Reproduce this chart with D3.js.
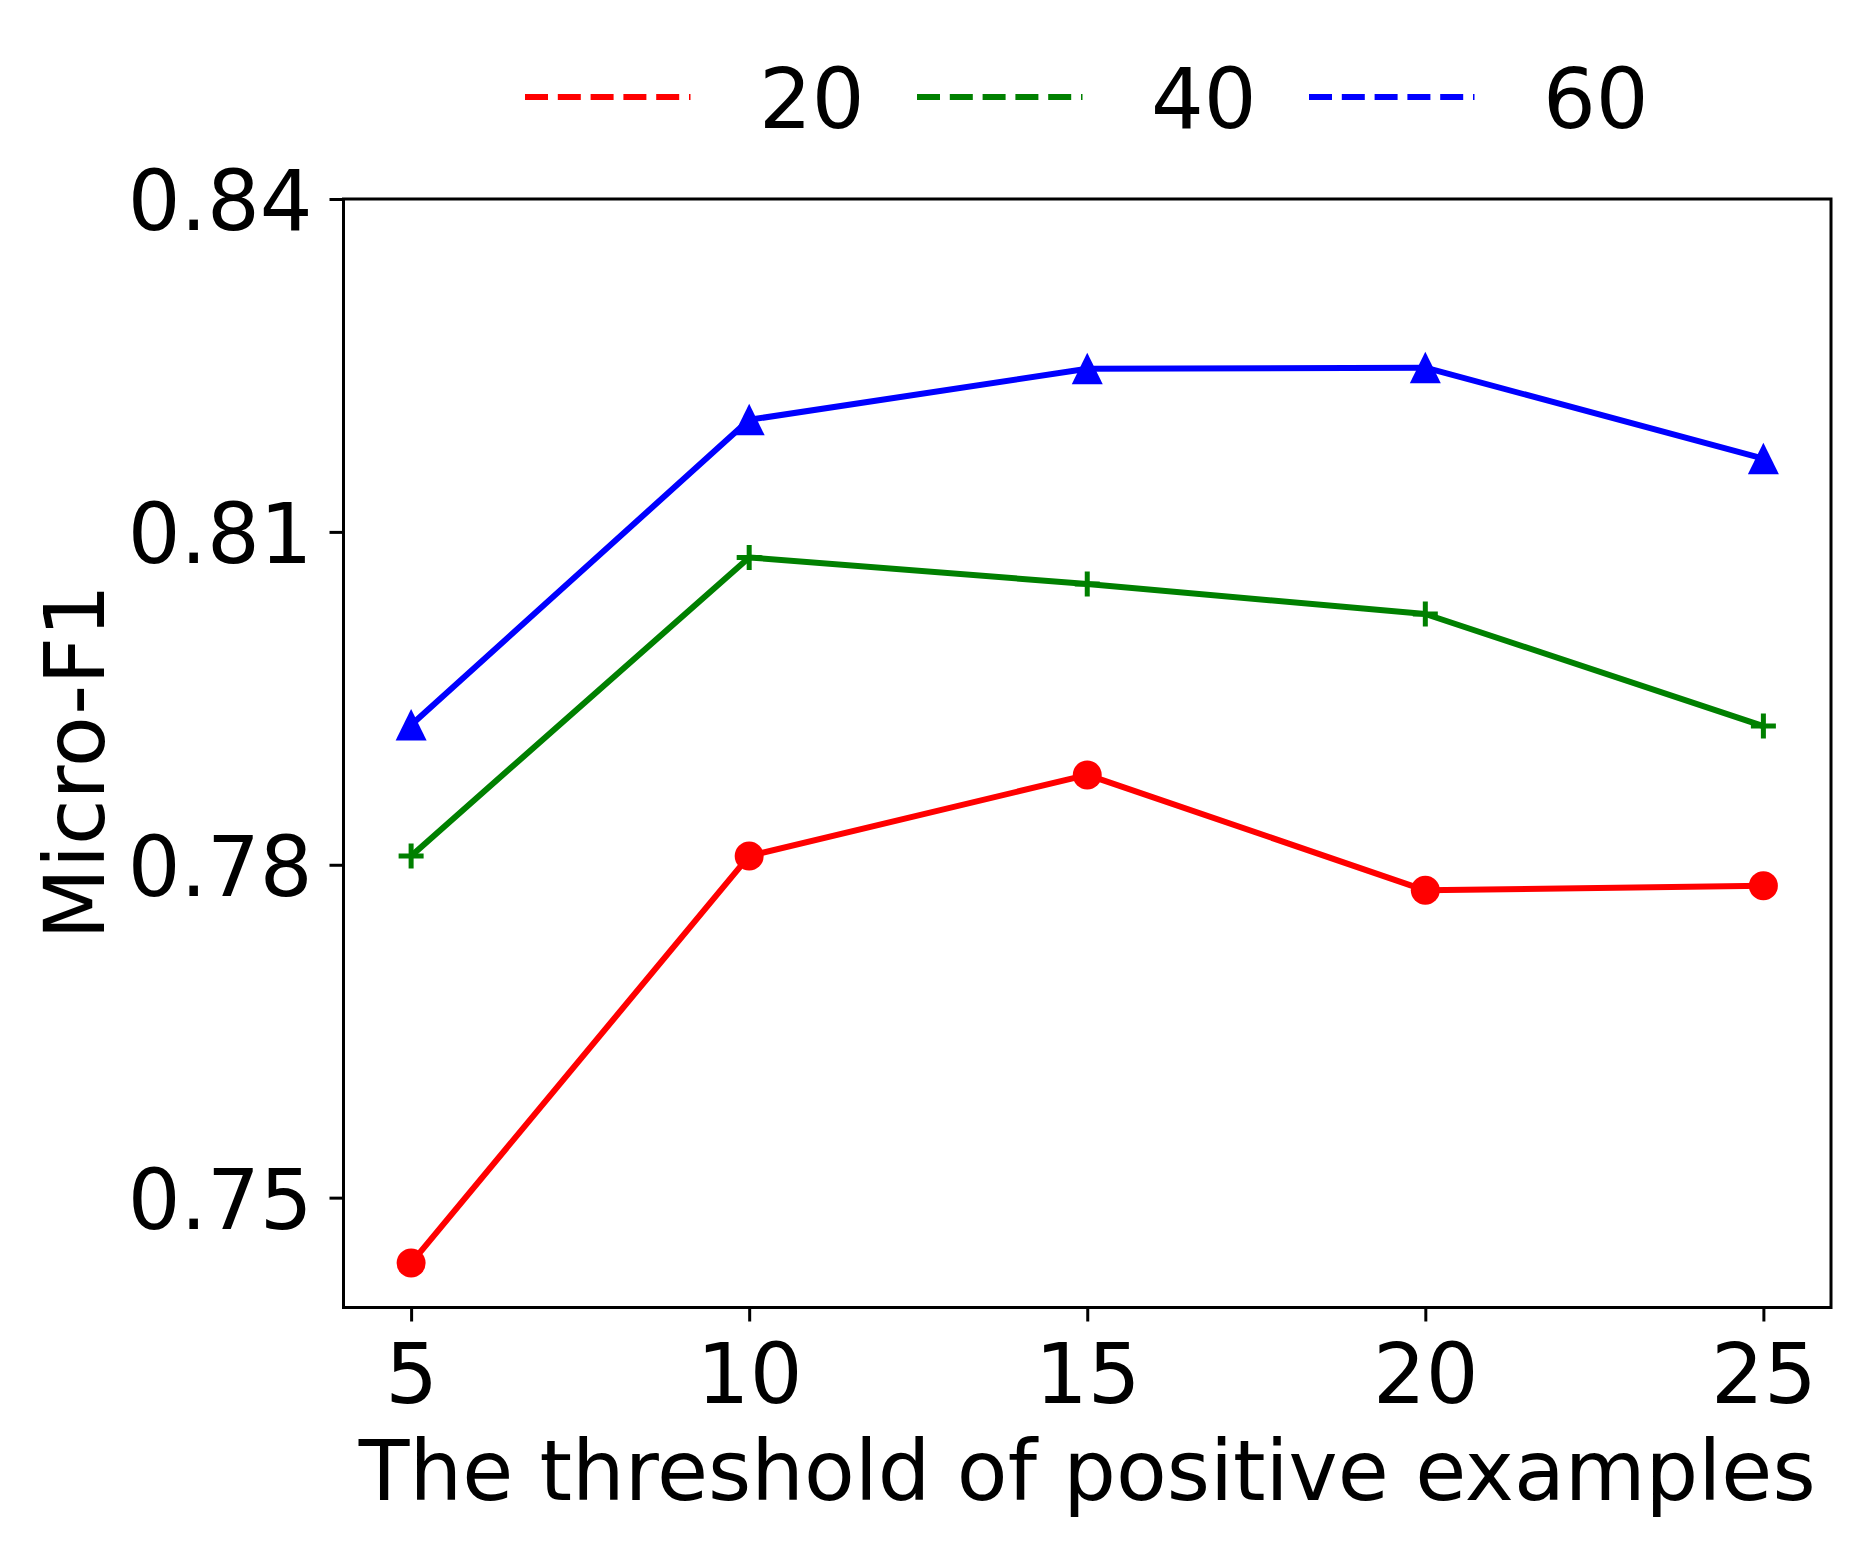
<!DOCTYPE html>
<html>
<head>
<meta charset="utf-8">
<script src="https://cdn.jsdelivr.net/npm/d3@7"></script>
<style>
  body { margin: 0; background: #fff; }
  svg { display: block; }
  text { font-family: "DejaVu Sans", sans-serif; fill: #000; }
</style>
</head>
<body>
<svg id="chart" width="1860" height="1546"></svg>
<script>
// thresholds on the x axis
const thresholds = [5, 10, 15, 20, 25];
const yTicks = [0.75, 0.78, 0.81, 0.84];

// Micro-F1 per series (label = training ratio)
const f1At20 = [0.7441, 0.7808, 0.7881, 0.7777, 0.7781];
const f1At40 = [0.7808, 0.8077, 0.8053, 0.8026, 0.7925];
const f1At60 = [0.7926, 0.8201, 0.8247, 0.8248, 0.8166];

const seriesNames = ['20', '40', '60'];

const series = [
  { name: seriesNames[0], values: f1At20, color: '#ff0000', marker: 'circle' },
  { name: seriesNames[1], values: f1At40, color: '#008000', marker: 'plus' },
  { name: seriesNames[2], values: f1At60, color: '#0000ff', marker: 'triangle' }
];

const svg = d3.select('#chart');
const plot = { left: 343.5, top: 199, right: 1831, bottom: 1307.5 };
const fontSize = 83;

const x = d3.scaleLinear().domain([4, 26]).range([plot.left, plot.right]);
const y = d3.scaleLinear().domain([0.7401, 0.84]).range([plot.bottom, plot.top]);

// axes with matplotlib-like outward ticks
const xAxis = svg.append('g')
  .attr('transform', `translate(0,${plot.bottom})`)
  .call(d3.axisBottom(x).tickValues(thresholds).tickSize(14).tickPadding(22).tickFormat(d3.format('d')));

const yAxis = svg.append('g')
  .attr('transform', `translate(${plot.left},0)`)
  .call(d3.axisLeft(y).tickValues(yTicks).tickSize(14).tickPadding(17).tickFormat(d3.format('.2f')));

[xAxis, yAxis].forEach(a => {
  a.select('.domain').remove();
  a.selectAll('.tick line').attr('stroke', '#000').attr('stroke-width', 3);
  a.selectAll('.tick text')
    .style('font-family', '"DejaVu Sans", sans-serif')
    .style('font-size', fontSize + 'px')
    .attr('fill', '#000');
});
xAxis.selectAll('.tick text').attr('dy', null).attr('y', 95);
yAxis.selectAll('.tick text').attr('dy', '0.37em');

// frame
svg.append('rect')
  .attr('x', plot.left).attr('y', plot.top)
  .attr('width', plot.right - plot.left).attr('height', plot.bottom - plot.top)
  .attr('fill', 'none').attr('stroke', '#000').attr('stroke-width', 3);

// axis labels
svg.append('text')
  .attr('x', (plot.left + plot.right) / 2).attr('y', 1500)
  .attr('text-anchor', 'middle')
  .style('font-size', fontSize + 'px')
  .text('The threshold of positive examples');

svg.append('text')
  .attr('transform', 'translate(104,762) rotate(-90)')
  .attr('text-anchor', 'middle')
  .style('font-size', fontSize + 'px')
  .text('Micro-F1');

// lines + markers
const line = d3.line().x((d, i) => x(thresholds[i])).y(d => y(d));

const g = svg.append('g');
series.forEach(s => {
  g.append('path')
    .datum(s.values)
    .attr('d', line)
    .attr('fill', 'none')
    .attr('stroke', s.color)
    .attr('stroke-width', 6)
    .attr('stroke-linejoin', 'round');

  const pts = g.selectAll(null).data(s.values).enter().append('g')
    .attr('transform', (d, i) => `translate(${x(thresholds[i])},${y(d)})`);

  if (s.marker === 'circle') {
    pts.append('circle').attr('r', 14.5).attr('fill', s.color);
  } else if (s.marker === 'triangle') {
    pts.append('path').attr('d', 'M0,-16 L15.5,15.5 L-15.5,15.5 Z').attr('fill', s.color);
  } else {
    pts.append('path').attr('d', 'M-12.5,0 H12.5 M0,-12.5 V12.5')
      .attr('stroke', s.color).attr('stroke-width', 5).attr('fill', 'none');
  }
});

// legend: dashed handles, no markers
const legend = svg.append('g');
series.forEach((s, i) => {
  const x0 = 525 + i * 392;
  legend.append('line')
    .attr('x1', x0).attr('x2', x0 + 165.5)
    .attr('y1', 97).attr('y2', 97)
    .attr('stroke', s.color).attr('stroke-width', 6)
    .attr('stroke-dasharray', '23,9.8');
  legend.append('text')
    .attr('x', x0 + 234).attr('y', 128)
    .style('font-size', fontSize + 'px')
    .text(s.name);
});
</script>
</body>
</html>
